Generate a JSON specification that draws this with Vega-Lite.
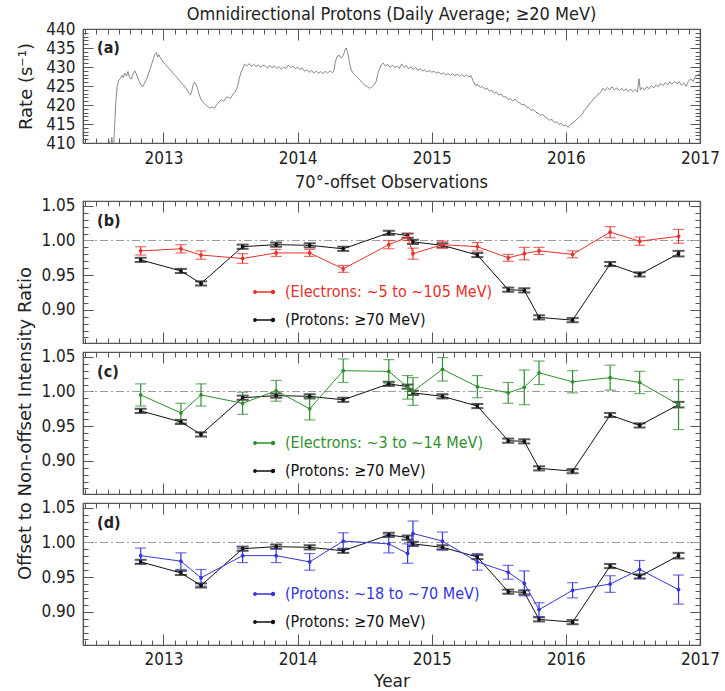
{
"$schema": "https://vega.github.io/schema/vega-lite/v6.json",
"autosize": {"type": "none"},
"padding": {"left": 83, "top": 29, "right": 642, "bottom": 662},
"background": "white",
"bounds": "flush",
"spacing": 9,
"resolve": {"scale": {"color": "independent"}, "legend": {"color": "independent"}},
"config": {
  "view": {"stroke": "#555", "strokeWidth": 1.2},
  "axis": {"domainColor": "#555", "domainWidth": 1.2, "tickColor": "#555", "tickWidth": 1, "labelFont": "DejaVu Sans Condensed, Liberation Sans Narrow, DejaVu Sans", "labelFontSize": 17, "labelColor": "#222", "titleFont": "DejaVu Sans", "titleFontSize": 18, "titleFontWeight": "normal", "titleColor": "#222", "grid": false, "labelOverlap": false, "labelFlush": false, "labelBound": false},
  "title": {"font": "DejaVu Sans Condensed, Liberation Sans Narrow, DejaVu Sans", "fontSize": 18, "fontWeight": "normal", "color": "#222", "frame": "group", "anchor": "middle"},
  "legend": {"orient": "none", "legendX": 170, "padding": 0, "labelOffset": 10, "labelFont": "DejaVu Sans Condensed, Liberation Sans Narrow, DejaVu Sans", "labelFontSize": 16, "labelLimit": 400, "symbolType": "M-0.9,0L0.9,0M-0.9,-0.12A0.12,0.12,0,1,1,-0.9,0.12A0.12,0.12,0,1,1,-0.9,-0.12M0.9,-0.15A0.15,0.15,0,1,1,0.9,0.15A0.15,0.15,0,1,1,0.9,-0.15", "symbolSize": 400, "symbolStrokeWidth": 1.4, "title": null}
},
"datasets": {
"rate": [
{"t":2012.56,"r":405},{"t":2012.575,"r":409.5},{"t":2012.585,"r":404},{"t":2012.595,"r":410.5},{"t":2012.605,"r":405},{"t":2012.615,"r":411.5},{"t":2012.625,"r":406},{"t":2012.635,"r":414},{"t":2012.645,"r":421},{"t":2012.655,"r":425},{"t":2012.667,"r":426.5},{"t":2012.679,"r":427},{"t":2012.69,"r":427.8},{"t":2012.7,"r":427.2},{"t":2012.712,"r":428.4},{"t":2012.724,"r":427.6},{"t":2012.735,"r":428.8},{"t":2012.747,"r":427.3},{"t":2012.759,"r":426.8},{"t":2012.77,"r":427.9},{"t":2012.786,"r":429},{"t":2012.797,"r":428.2},{"t":2012.81,"r":427},{"t":2012.822,"r":426},{"t":2012.833,"r":425.3},{"t":2012.845,"r":424.8},{"t":2012.857,"r":425.6},{"t":2012.868,"r":426.5},{"t":2012.879,"r":427.2},{"t":2012.89,"r":428.5},{"t":2012.902,"r":429.6},{"t":2012.914,"r":431},{"t":2012.925,"r":432.2},{"t":2012.937,"r":433.4},{"t":2012.948,"r":433.8},{"t":2012.957,"r":432.6},{"t":2012.966,"r":433.2},{"t":2012.977,"r":432.4},{"t":2012.988,"r":431.8},{"t":2013.0,"r":431.2},{"t":2013.017,"r":430.6},{"t":2013.034,"r":429.8},{"t":2013.052,"r":429.3},{"t":2013.069,"r":428.4},{"t":2013.086,"r":427.8},{"t":2013.103,"r":427.1},{"t":2013.12,"r":426.4},{"t":2013.138,"r":425.6},{"t":2013.155,"r":425},{"t":2013.172,"r":424.2},{"t":2013.19,"r":423.1},{"t":2013.2,"r":422.6},{"t":2013.21,"r":423.5},{"t":2013.22,"r":425.2},{"t":2013.231,"r":426},{"t":2013.242,"r":425.4},{"t":2013.252,"r":424.6},{"t":2013.264,"r":423},{"t":2013.276,"r":421.8},{"t":2013.29,"r":420.9},{"t":2013.31,"r":420.2},{"t":2013.33,"r":419.6},{"t":2013.345,"r":419.2},{"t":2013.362,"r":419.5},{"t":2013.38,"r":419.1},{"t":2013.397,"r":420.1},{"t":2013.415,"r":420.8},{"t":2013.431,"r":421.4},{"t":2013.45,"r":421},{"t":2013.465,"r":421.9},{"t":2013.483,"r":422.1},{"t":2013.5,"r":421.7},{"t":2013.517,"r":422.8},{"t":2013.535,"r":423.4},{"t":2013.552,"r":424.8},{"t":2013.565,"r":426.9},{"t":2013.576,"r":428.4},{"t":2013.59,"r":429.5},{"t":2013.605,"r":430.8},{"t":2013.621,"r":430.3},{"t":2013.64,"r":430.9},{"t":2013.655,"r":430.2},{"t":2013.672,"r":430.7},{"t":2013.69,"r":430.1},{"t":2013.707,"r":430.6},{"t":2013.724,"r":429.9},{"t":2013.741,"r":430.5},{"t":2013.76,"r":430.2},{"t":2013.776,"r":429.7},{"t":2013.793,"r":430.4},{"t":2013.81,"r":429.8},{"t":2013.828,"r":430.3},{"t":2013.845,"r":429.6},{"t":2013.862,"r":430.1},{"t":2013.879,"r":429.4},{"t":2013.897,"r":430.0},{"t":2013.914,"r":429.6},{"t":2013.931,"r":430.5},{"t":2013.948,"r":429.8},{"t":2013.965,"r":430.2},{"t":2013.983,"r":429.5},{"t":2014.0,"r":429.9},{"t":2014.017,"r":429.4},{"t":2014.035,"r":429.7},{"t":2014.052,"r":428.9},{"t":2014.069,"r":429.3},{"t":2014.086,"r":428.6},{"t":2014.103,"r":429.1},{"t":2014.12,"r":428.4},{"t":2014.138,"r":428.9},{"t":2014.155,"r":428.3},{"t":2014.172,"r":428.8},{"t":2014.19,"r":428.2},{"t":2014.207,"r":428.9},{"t":2014.224,"r":428.4},{"t":2014.241,"r":429},{"t":2014.258,"r":428.5},{"t":2014.27,"r":428.9},{"t":2014.282,"r":431.5},{"t":2014.295,"r":432.8},{"t":2014.31,"r":433.1},{"t":2014.322,"r":432.4},{"t":2014.334,"r":432.7},{"t":2014.345,"r":433.5},{"t":2014.355,"r":434.6},{"t":2014.362,"r":435},{"t":2014.37,"r":434.2},{"t":2014.38,"r":432.5},{"t":2014.39,"r":430.6},{"t":2014.4,"r":429.2},{"t":2014.414,"r":428.4},{"t":2014.43,"r":427.8},{"t":2014.448,"r":427.2},{"t":2014.465,"r":426.5},{"t":2014.483,"r":425.9},{"t":2014.5,"r":425.2},{"t":2014.517,"r":424.9},{"t":2014.535,"r":424.4},{"t":2014.552,"r":424.7},{"t":2014.569,"r":425.3},{"t":2014.586,"r":426.2},{"t":2014.598,"r":428.3},{"t":2014.61,"r":429.5},{"t":2014.624,"r":430.6},{"t":2014.638,"r":431},{"t":2014.655,"r":430.2},{"t":2014.672,"r":430.7},{"t":2014.69,"r":429.9},{"t":2014.707,"r":430.5},{"t":2014.724,"r":429.8},{"t":2014.741,"r":430.3},{"t":2014.758,"r":429.6},{"t":2014.776,"r":430.8},{"t":2014.793,"r":429.9},{"t":2014.81,"r":430.4},{"t":2014.828,"r":429.5},{"t":2014.845,"r":430.1},{"t":2014.862,"r":429.3},{"t":2014.88,"r":429.9},{"t":2014.897,"r":429.1},{"t":2014.914,"r":429.6},{"t":2014.931,"r":428.9},{"t":2014.948,"r":429.3},{"t":2014.965,"r":428.7},{"t":2014.983,"r":429.1},{"t":2015.0,"r":428.6},{"t":2015.017,"r":428.9},{"t":2015.034,"r":428.3},{"t":2015.052,"r":428.7},{"t":2015.069,"r":428.1},{"t":2015.086,"r":428.5},{"t":2015.103,"r":427.9},{"t":2015.121,"r":428.3},{"t":2015.138,"r":427.8},{"t":2015.155,"r":428.2},{"t":2015.172,"r":427.7},{"t":2015.19,"r":428.1},{"t":2015.207,"r":427.6},{"t":2015.224,"r":428.0},{"t":2015.241,"r":427.5},{"t":2015.259,"r":427.9},{"t":2015.276,"r":427.4},{"t":2015.293,"r":427.7},{"t":2015.31,"r":426.2},{"t":2015.328,"r":425.1},{"t":2015.345,"r":425.4},{"t":2015.362,"r":424.6},{"t":2015.379,"r":424.9},{"t":2015.397,"r":424.1},{"t":2015.414,"r":424.4},{"t":2015.431,"r":423.6},{"t":2015.448,"r":423.9},{"t":2015.466,"r":423.1},{"t":2015.483,"r":423.4},{"t":2015.5,"r":422.6},{"t":2015.517,"r":422.9},{"t":2015.535,"r":422.1},{"t":2015.552,"r":422.2},{"t":2015.569,"r":421.4},{"t":2015.586,"r":421.7},{"t":2015.604,"r":421},{"t":2015.621,"r":421.6},{"t":2015.638,"r":420.8},{"t":2015.655,"r":420.6},{"t":2015.672,"r":420},{"t":2015.69,"r":420.2},{"t":2015.707,"r":419.4},{"t":2015.724,"r":419.3},{"t":2015.741,"r":418.6},{"t":2015.759,"r":418.8},{"t":2015.776,"r":418.1},{"t":2015.793,"r":417.9},{"t":2015.81,"r":417.3},{"t":2015.828,"r":417.5},{"t":2015.845,"r":416.8},{"t":2015.862,"r":416.5},{"t":2015.88,"r":416},{"t":2015.897,"r":416.2},{"t":2015.914,"r":415.4},{"t":2015.931,"r":415.6},{"t":2015.948,"r":414.9},{"t":2015.966,"r":415.2},{"t":2015.983,"r":414.5},{"t":2016.0,"r":414.8},{"t":2016.017,"r":414.1},{"t":2016.034,"r":414.9},{"t":2016.052,"r":415.3},{"t":2016.069,"r":415.8},{"t":2016.086,"r":416.4},{"t":2016.103,"r":416.9},{"t":2016.121,"r":417.5},{"t":2016.138,"r":418.6},{"t":2016.155,"r":419.3},{"t":2016.172,"r":420.2},{"t":2016.19,"r":420.8},{"t":2016.207,"r":421.7},{"t":2016.224,"r":422.1},{"t":2016.241,"r":422.9},{"t":2016.259,"r":423.3},{"t":2016.276,"r":424.4},{"t":2016.293,"r":423.8},{"t":2016.31,"r":424.6},{"t":2016.328,"r":424},{"t":2016.345,"r":424.8},{"t":2016.362,"r":423.9},{"t":2016.38,"r":424.5},{"t":2016.397,"r":423.8},{"t":2016.414,"r":424.4},{"t":2016.431,"r":423.7},{"t":2016.448,"r":424.3},{"t":2016.466,"r":423.6},{"t":2016.483,"r":424.2},{"t":2016.5,"r":423.5},{"t":2016.517,"r":424.1},{"t":2016.534,"r":423.4},{"t":2016.545,"r":426.9},{"t":2016.555,"r":424},{"t":2016.569,"r":424.6},{"t":2016.586,"r":423.9},{"t":2016.603,"r":424.8},{"t":2016.621,"r":424.3},{"t":2016.638,"r":425.1},{"t":2016.655,"r":424.5},{"t":2016.672,"r":425.3},{"t":2016.69,"r":424.8},{"t":2016.707,"r":425.7},{"t":2016.724,"r":425.1},{"t":2016.741,"r":425.9},{"t":2016.759,"r":425.3},{"t":2016.776,"r":426.1},{"t":2016.793,"r":425.5},{"t":2016.81,"r":426.2},{"t":2016.828,"r":425.6},{"t":2016.845,"r":426.1},{"t":2016.862,"r":425.2},{"t":2016.879,"r":425.8},{"t":2016.897,"r":424.9},{"t":2016.914,"r":426.3},{"t":2016.931,"r":426.9},{"t":2016.948,"r":426.2},{"t":2016.966,"r":427.5},{"t":2016.983,"r":427.9},{"t":2017.0,"r":428.2}
],
"obs": [
{"t":2012.83,"v":0.972,"e":0.003,"s":"(Protons: ≥70 MeV)"},{"t":2013.13,"v":0.956,"e":0.003,"s":"(Protons: ≥70 MeV)"},{"t":2013.28,"v":0.938,"e":0.003,"s":"(Protons: ≥70 MeV)"},{"t":2013.59,"v":0.991,"e":0.003,"s":"(Protons: ≥70 MeV)"},{"t":2013.84,"v":0.994,"e":0.003,"s":"(Protons: ≥70 MeV)"},{"t":2014.09,"v":0.993,"e":0.003,"s":"(Protons: ≥70 MeV)"},{"t":2014.34,"v":0.988,"e":0.003,"s":"(Protons: ≥70 MeV)"},{"t":2014.68,"v":1.011,"e":0.003,"s":"(Protons: ≥70 MeV)"},{"t":2014.82,"v":1.007,"e":0.003,"s":"(Protons: ≥70 MeV)"},{"t":2014.86,"v":0.998,"e":0.003,"s":"(Protons: ≥70 MeV)"},{"t":2015.08,"v":0.993,"e":0.003,"s":"(Protons: ≥70 MeV)"},{"t":2015.34,"v":0.979,"e":0.003,"s":"(Protons: ≥70 MeV)"},{"t":2015.57,"v":0.929,"e":0.003,"s":"(Protons: ≥70 MeV)"},{"t":2015.69,"v":0.928,"e":0.003,"s":"(Protons: ≥70 MeV)"},{"t":2015.8,"v":0.889,"e":0.003,"s":"(Protons: ≥70 MeV)"},{"t":2016.05,"v":0.885,"e":0.003,"s":"(Protons: ≥70 MeV)"},{"t":2016.33,"v":0.966,"e":0.003,"s":"(Protons: ≥70 MeV)"},{"t":2016.55,"v":0.951,"e":0.003,"s":"(Protons: ≥70 MeV)"},{"t":2016.84,"v":0.981,"e":0.004,"s":"(Protons: ≥70 MeV)"},
{"t":2012.83,"v":0.985,"e":0.006,"s":"(Electrons: ~5 to ~105 MeV)"},{"t":2013.13,"v":0.988,"e":0.006,"s":"(Electrons: ~5 to ~105 MeV)"},{"t":2013.28,"v":0.979,"e":0.006,"s":"(Electrons: ~5 to ~105 MeV)"},{"t":2013.59,"v":0.974,"e":0.007,"s":"(Electrons: ~5 to ~105 MeV)"},{"t":2013.84,"v":0.982,"e":0.005,"s":"(Electrons: ~5 to ~105 MeV)"},{"t":2014.09,"v":0.982,"e":0.005,"s":"(Electrons: ~5 to ~105 MeV)"},{"t":2014.34,"v":0.959,"e":0.005,"s":"(Electrons: ~5 to ~105 MeV)"},{"t":2014.68,"v":0.994,"e":0.006,"s":"(Electrons: ~5 to ~105 MeV)"},{"t":2014.82,"v":1.005,"e":0.005,"s":"(Electrons: ~5 to ~105 MeV)"},{"t":2014.86,"v":0.981,"e":0.008,"s":"(Electrons: ~5 to ~105 MeV)"},{"t":2015.08,"v":0.994,"e":0.005,"s":"(Electrons: ~5 to ~105 MeV)"},{"t":2015.34,"v":0.991,"e":0.006,"s":"(Electrons: ~5 to ~105 MeV)"},{"t":2015.57,"v":0.975,"e":0.005,"s":"(Electrons: ~5 to ~105 MeV)"},{"t":2015.69,"v":0.981,"e":0.009,"s":"(Electrons: ~5 to ~105 MeV)"},{"t":2015.8,"v":0.985,"e":0.005,"s":"(Electrons: ~5 to ~105 MeV)"},{"t":2016.05,"v":0.98,"e":0.005,"s":"(Electrons: ~5 to ~105 MeV)"},{"t":2016.33,"v":1.012,"e":0.008,"s":"(Electrons: ~5 to ~105 MeV)"},{"t":2016.55,"v":0.999,"e":0.006,"s":"(Electrons: ~5 to ~105 MeV)"},{"t":2016.84,"v":1.006,"e":0.01,"s":"(Electrons: ~5 to ~105 MeV)"},
{"t":2012.83,"v":0.995,"e":0.016,"s":"(Electrons: ~3 to ~14 MeV)"},{"t":2013.13,"v":0.969,"e":0.014,"s":"(Electrons: ~3 to ~14 MeV)"},{"t":2013.28,"v":0.995,"e":0.016,"s":"(Electrons: ~3 to ~14 MeV)"},{"t":2013.59,"v":0.983,"e":0.016,"s":"(Electrons: ~3 to ~14 MeV)"},{"t":2013.84,"v":1.001,"e":0.015,"s":"(Electrons: ~3 to ~14 MeV)"},{"t":2014.09,"v":0.975,"e":0.016,"s":"(Electrons: ~3 to ~14 MeV)"},{"t":2014.34,"v":1.03,"e":0.017,"s":"(Electrons: ~3 to ~14 MeV)"},{"t":2014.68,"v":1.029,"e":0.017,"s":"(Electrons: ~3 to ~14 MeV)"},{"t":2014.82,"v":1.006,"e":0.017,"s":"(Electrons: ~3 to ~14 MeV)"},{"t":2014.86,"v":1.0,"e":0.02,"s":"(Electrons: ~3 to ~14 MeV)"},{"t":2015.08,"v":1.032,"e":0.017,"s":"(Electrons: ~3 to ~14 MeV)"},{"t":2015.34,"v":1.007,"e":0.016,"s":"(Electrons: ~3 to ~14 MeV)"},{"t":2015.57,"v":0.998,"e":0.015,"s":"(Electrons: ~3 to ~14 MeV)"},{"t":2015.69,"v":1.006,"e":0.025,"s":"(Electrons: ~3 to ~14 MeV)"},{"t":2015.8,"v":1.027,"e":0.017,"s":"(Electrons: ~3 to ~14 MeV)"},{"t":2016.05,"v":1.014,"e":0.016,"s":"(Electrons: ~3 to ~14 MeV)"},{"t":2016.33,"v":1.02,"e":0.018,"s":"(Electrons: ~3 to ~14 MeV)"},{"t":2016.55,"v":1.013,"e":0.016,"s":"(Electrons: ~3 to ~14 MeV)"},{"t":2016.84,"v":0.981,"e":0.036,"s":"(Electrons: ~3 to ~14 MeV)"},
{"t":2012.83,"v":0.981,"e":0.011,"s":"(Protons: ~18 to ~70 MeV)"},{"t":2013.13,"v":0.973,"e":0.012,"s":"(Protons: ~18 to ~70 MeV)"},{"t":2013.28,"v":0.949,"e":0.012,"s":"(Protons: ~18 to ~70 MeV)"},{"t":2013.59,"v":0.981,"e":0.01,"s":"(Protons: ~18 to ~70 MeV)"},{"t":2013.84,"v":0.981,"e":0.01,"s":"(Protons: ~18 to ~70 MeV)"},{"t":2014.09,"v":0.972,"e":0.012,"s":"(Protons: ~18 to ~70 MeV)"},{"t":2014.34,"v":1.002,"e":0.012,"s":"(Protons: ~18 to ~70 MeV)"},{"t":2014.68,"v":0.998,"e":0.013,"s":"(Protons: ~18 to ~70 MeV)"},{"t":2014.82,"v":0.984,"e":0.014,"s":"(Protons: ~18 to ~70 MeV)"},{"t":2014.86,"v":1.013,"e":0.018,"s":"(Protons: ~18 to ~70 MeV)"},{"t":2015.08,"v":1.002,"e":0.013,"s":"(Protons: ~18 to ~70 MeV)"},{"t":2015.34,"v":0.972,"e":0.012,"s":"(Protons: ~18 to ~70 MeV)"},{"t":2015.57,"v":0.957,"e":0.01,"s":"(Protons: ~18 to ~70 MeV)"},{"t":2015.69,"v":0.941,"e":0.018,"s":"(Protons: ~18 to ~70 MeV)"},{"t":2015.8,"v":0.903,"e":0.01,"s":"(Protons: ~18 to ~70 MeV)"},{"t":2016.05,"v":0.931,"e":0.011,"s":"(Protons: ~18 to ~70 MeV)"},{"t":2016.33,"v":0.94,"e":0.012,"s":"(Protons: ~18 to ~70 MeV)"},{"t":2016.55,"v":0.961,"e":0.013,"s":"(Protons: ~18 to ~70 MeV)"},{"t":2016.84,"v":0.932,"e":0.021,"s":"(Protons: ~18 to ~70 MeV)"}
]
},
"vconcat": [
{
 "width": 617, "height": 114,
 "title": {"text": "Omnidirectional Protons (Daily Average; ≥20 MeV)", "offset": -4},
 "layer": [
  {"data": {"name": "rate"}, "mark": {"type": "line", "color": "#6a6a6a", "strokeWidth": 0.8, "clip": true},
   "encoding": {
    "x": {"field": "t", "type": "quantitative", "scale": {"domain": [2012.4, 2017.0], "nice": false, "zero": false},
      "axis": {"orient": "bottom", "values": [2012.4166667,2012.5,2012.5833333,2012.6666667,2012.75,2012.8333333,2012.9166667,2013,2013.0833333,2013.1666667,2013.25,2013.3333333,2013.4166667,2013.5,2013.5833333,2013.6666667,2013.75,2013.8333333,2013.9166667,2014,2014.0833333,2014.1666667,2014.25,2014.3333333,2014.4166667,2014.5,2014.5833333,2014.6666667,2014.75,2014.8333333,2014.9166667,2015,2015.0833333,2015.1666667,2015.25,2015.3333333,2015.4166667,2015.5,2015.5833333,2015.6666667,2015.75,2015.8333333,2015.9166667,2016,2016.0833333,2016.1666667,2016.25,2016.3333333,2016.4166667,2016.5,2016.5833333,2016.6666667,2016.75,2016.8333333,2016.9166667,2017], "tickSize": {"condition": {"test": "datum.value % 1 === 0", "value": -11}, "value": -5}, "labelExpr": "datum.value % 1 === 0 ? format(datum.value, 'd') : ''", "labelPadding": 18, "title": null}},
    "y": {"field": "r", "type": "quantitative", "scale": {"domain": [410, 440], "nice": false, "zero": false},
      "axis": {"orient": "left", "values": [410,411,412,413,414,415,416,417,418,419,420,421,422,423,424,425,426,427,428,429,430,431,432,433,434,435,436,437,438,439,440], "tickSize": {"condition": {"test": "datum.value % 5 === 0", "value": -10}, "value": -5}, "labelExpr": "datum.value % 5 === 0 ? format(datum.value, 'd') : ''", "labelPadding": 18, "title": "Rate (s⁻¹)", "titlePadding": 10}}
   }},
  {"data": {"values": [{}]}, "mark": {"type": "text", "text": "(a)", "align": "left", "baseline": "middle", "fontSize": 16, "fontWeight": "bold", "font": "DejaVu Sans Condensed, Liberation Sans Narrow, DejaVu Sans", "color": "#222"},
   "encoding": {"x": {"datum": 2012.505, "type": "quantitative", "scale": {"domain": [2012.4, 2017.0], "nice": false, "zero": false}, "axis": null}, "y": {"datum": 435, "type": "quantitative", "scale": {"domain": [410, 440], "nice": false, "zero": false}, "axis": null}}},
  {"data": {"values": [{}]}, "mark": {"type": "point", "opacity": 0},
   "encoding": {
    "x": {"datum": 2015, "type": "quantitative", "scale": {"domain": [2012.4, 2017.0], "nice": false, "zero": false},
      "axis": {"orient": "top", "values": [2012.4166667,2012.5,2012.5833333,2012.6666667,2012.75,2012.8333333,2012.9166667,2013,2013.0833333,2013.1666667,2013.25,2013.3333333,2013.4166667,2013.5,2013.5833333,2013.6666667,2013.75,2013.8333333,2013.9166667,2014,2014.0833333,2014.1666667,2014.25,2014.3333333,2014.4166667,2014.5,2014.5833333,2014.6666667,2014.75,2014.8333333,2014.9166667,2015,2015.0833333,2015.1666667,2015.25,2015.3333333,2015.4166667,2015.5,2015.5833333,2015.6666667,2015.75,2015.8333333,2015.9166667,2016,2016.0833333,2016.1666667,2016.25,2016.3333333,2016.4166667,2016.5,2016.5833333,2016.6666667,2016.75,2016.8333333,2016.9166667,2017], "tickSize": {"condition": {"test": "datum.value % 1 === 0", "value": -11}, "value": -5}, "labels": false, "title": null}},
    "y": {"datum": 425, "type": "quantitative", "scale": {"domain": [410, 440], "nice": false, "zero": false},
      "axis": {"orient": "right", "values": [410,411,412,413,414,415,416,417,418,419,420,421,422,423,424,425,426,427,428,429,430,431,432,433,434,435,436,437,438,439,440], "tickSize": {"condition": {"test": "datum.value % 5 === 0", "value": -10}, "value": -5}, "labels": false, "title": null}}
   }}
 ],
 "resolve": {"axis": {"x": "independent", "y": "independent"}}
},
{
 "width": 617, "height": 40, "view": {"stroke": null},
 "data": {"values": [{}]}, "mark": {"type": "point", "opacity": 0}
},
{
 "width": 617, "height": 142,
 "title": {"text": "70°-offset Observations", "offset": 5},
 "layer": [
  {"data": {"values": [{}]}, "mark": {"type": "rule", "color": "#9a9a9a", "strokeDash": [8, 3, 2, 3], "strokeWidth": 1},
   "encoding": {"y": {"datum": 1, "type": "quantitative", "scale": {"domain": [0.852, 1.057], "nice": false, "zero": false}, "axis": null}}},
  {"data": {"name": "obs"}, "transform": [{"filter": "datum.s === '(Protons: ≥70 MeV)'"}],
   "mark": {"type": "errorbar", "ticks": true, "size": 12, "thickness": 2, "color": "#111"},
   "encoding": {"x": {"field": "t", "type": "quantitative", "scale": {"domain": [2012.4, 2017.0], "nice": false, "zero": false}, "axis": null}, "y": {"field": "v", "type": "quantitative", "scale": {"domain": [0.852, 1.057], "nice": false, "zero": false}, "axis": null}, "yError": {"field": "e"}}},
  {"data": {"name": "obs"}, "transform": [{"filter": "datum.s === '(Electrons: ~5 to ~105 MeV)'"}],
   "mark": {"type": "errorbar", "ticks": true, "size": 11, "thickness": 1.2, "color": "#e8302a"},
   "encoding": {"x": {"field": "t", "type": "quantitative", "scale": {"domain": [2012.4, 2017.0], "nice": false, "zero": false}, "axis": null}, "y": {"field": "v", "type": "quantitative", "scale": {"domain": [0.852, 1.057], "nice": false, "zero": false}, "axis": null}, "yError": {"field": "e"}}},
  {"data": {"name": "obs"}, "transform": [{"filter": "datum.s === '(Protons: ≥70 MeV)'"}],
   "mark": {"type": "line", "strokeWidth": 1, "point": {"filled": true, "size": 14}},
   "encoding": {
    "x": {"field": "t", "type": "quantitative", "scale": {"domain": [2012.4, 2017.0], "nice": false, "zero": false},
      "axis": {"orient": "bottom", "values": [2012.4166667,2012.5,2012.5833333,2012.6666667,2012.75,2012.8333333,2012.9166667,2013,2013.0833333,2013.1666667,2013.25,2013.3333333,2013.4166667,2013.5,2013.5833333,2013.6666667,2013.75,2013.8333333,2013.9166667,2014,2014.0833333,2014.1666667,2014.25,2014.3333333,2014.4166667,2014.5,2014.5833333,2014.6666667,2014.75,2014.8333333,2014.9166667,2015,2015.0833333,2015.1666667,2015.25,2015.3333333,2015.4166667,2015.5,2015.5833333,2015.6666667,2015.75,2015.8333333,2015.9166667,2016,2016.0833333,2016.1666667,2016.25,2016.3333333,2016.4166667,2016.5,2016.5833333,2016.6666667,2016.75,2016.8333333,2016.9166667,2017], "tickSize": {"condition": {"test": "datum.value % 1 === 0", "value": -11}, "value": -5}, "labels": false, "title": null}},
    "y": {"field": "v", "type": "quantitative", "scale": {"domain": [0.852, 1.057], "nice": false, "zero": false},
      "axis": {"orient": "left", "values": [0.86,0.87,0.88,0.89,0.9,0.91,0.92,0.93,0.94,0.95,0.96,0.97,0.98,0.99,1,1.01,1.02,1.03,1.04,1.05], "tickSize": {"condition": {"test": "abs(datum.value*20-round(datum.value*20))<0.001", "value": -10}, "value": -5}, "labelExpr": "abs(datum.value*20-round(datum.value*20))<0.001 ? format(datum.value, '.2f') : ''", "labelPadding": 18, "title": null}},
    "color": {"field": "s", "type": "nominal", "scale": {"domain": ["(Protons: ≥70 MeV)"], "range": ["#111111"]},
      "legend": {"legendY": 108, "labelColor": "#111111", "symbolFillColor": "#111111"}}
   }},
  {"data": {"name": "obs"}, "transform": [{"filter": "datum.s === '(Electrons: ~5 to ~105 MeV)'"}],
   "mark": {"type": "line", "strokeWidth": 1, "point": {"filled": true, "size": 14}},
   "encoding": {
    "x": {"field": "t", "type": "quantitative", "scale": {"domain": [2012.4, 2017.0], "nice": false, "zero": false}, "axis": null},
    "y": {"field": "v", "type": "quantitative", "scale": {"domain": [0.852, 1.057], "nice": false, "zero": false}, "axis": null},
    "color": {"field": "s", "type": "nominal", "scale": {"domain": ["(Electrons: ~5 to ~105 MeV)"], "range": ["#e8302a"]},
      "legend": {"legendY": 80, "labelColor": "#e8302a", "symbolFillColor": "#e8302a"}}
   }},
  {"data": {"values": [{}]}, "mark": {"type": "text", "text": "(b)", "align": "left", "baseline": "middle", "fontSize": 16, "fontWeight": "bold", "font": "DejaVu Sans Condensed, Liberation Sans Narrow, DejaVu Sans", "color": "#222"},
   "encoding": {"x": {"datum": 2012.505, "type": "quantitative", "scale": {"domain": [2012.4, 2017.0], "nice": false, "zero": false}, "axis": null}, "y": {"datum": 1.028, "type": "quantitative", "scale": {"domain": [0.852, 1.057], "nice": false, "zero": false}, "axis": null}}},
  {"data": {"values": [{}]}, "mark": {"type": "point", "opacity": 0},
   "encoding": {
    "x": {"datum": 2015, "type": "quantitative", "scale": {"domain": [2012.4, 2017.0], "nice": false, "zero": false},
      "axis": {"orient": "top", "values": [2012.4166667,2012.5,2012.5833333,2012.6666667,2012.75,2012.8333333,2012.9166667,2013,2013.0833333,2013.1666667,2013.25,2013.3333333,2013.4166667,2013.5,2013.5833333,2013.6666667,2013.75,2013.8333333,2013.9166667,2014,2014.0833333,2014.1666667,2014.25,2014.3333333,2014.4166667,2014.5,2014.5833333,2014.6666667,2014.75,2014.8333333,2014.9166667,2015,2015.0833333,2015.1666667,2015.25,2015.3333333,2015.4166667,2015.5,2015.5833333,2015.6666667,2015.75,2015.8333333,2015.9166667,2016,2016.0833333,2016.1666667,2016.25,2016.3333333,2016.4166667,2016.5,2016.5833333,2016.6666667,2016.75,2016.8333333,2016.9166667,2017], "tickSize": {"condition": {"test": "datum.value % 1 === 0", "value": -11}, "value": -5}, "labels": false, "title": null}},
    "y": {"datum": 1, "type": "quantitative", "scale": {"domain": [0.852, 1.057], "nice": false, "zero": false},
      "axis": {"orient": "right", "values": [0.86,0.87,0.88,0.89,0.9,0.91,0.92,0.93,0.94,0.95,0.96,0.97,0.98,0.99,1,1.01,1.02,1.03,1.04,1.05], "tickSize": {"condition": {"test": "abs(datum.value*20-round(datum.value*20))<0.001", "value": -10}, "value": -5}, "labels": false, "title": null}}
   }}
 ],
 "resolve": {"axis": {"x": "independent", "y": "independent"}, "scale": {"color": "independent"}, "legend": {"color": "independent"}}
},
{
 "width": 617, "height": 142,
 "layer": [
  {"data": {"values": [{}]}, "mark": {"type": "rule", "color": "#9a9a9a", "strokeDash": [8, 3, 2, 3], "strokeWidth": 1},
   "encoding": {"y": {"datum": 1, "type": "quantitative", "scale": {"domain": [0.852, 1.057], "nice": false, "zero": false}, "axis": null}}},
  {"data": {"name": "obs"}, "transform": [{"filter": "datum.s === '(Protons: ≥70 MeV)'"}],
   "mark": {"type": "errorbar", "ticks": true, "size": 12, "thickness": 2, "color": "#111"},
   "encoding": {"x": {"field": "t", "type": "quantitative", "scale": {"domain": [2012.4, 2017.0], "nice": false, "zero": false}, "axis": null}, "y": {"field": "v", "type": "quantitative", "scale": {"domain": [0.852, 1.057], "nice": false, "zero": false}, "axis": null}, "yError": {"field": "e"}}},
  {"data": {"name": "obs"}, "transform": [{"filter": "datum.s === '(Electrons: ~3 to ~14 MeV)'"}],
   "mark": {"type": "errorbar", "ticks": true, "size": 11, "thickness": 1.2, "color": "#2f8f2f"},
   "encoding": {"x": {"field": "t", "type": "quantitative", "scale": {"domain": [2012.4, 2017.0], "nice": false, "zero": false}, "axis": null}, "y": {"field": "v", "type": "quantitative", "scale": {"domain": [0.852, 1.057], "nice": false, "zero": false}, "axis": null}, "yError": {"field": "e"}}},
  {"data": {"name": "obs"}, "transform": [{"filter": "datum.s === '(Protons: ≥70 MeV)'"}],
   "mark": {"type": "line", "strokeWidth": 1, "point": {"filled": true, "size": 14}},
   "encoding": {
    "x": {"field": "t", "type": "quantitative", "scale": {"domain": [2012.4, 2017.0], "nice": false, "zero": false},
      "axis": {"orient": "bottom", "values": [2012.4166667,2012.5,2012.5833333,2012.6666667,2012.75,2012.8333333,2012.9166667,2013,2013.0833333,2013.1666667,2013.25,2013.3333333,2013.4166667,2013.5,2013.5833333,2013.6666667,2013.75,2013.8333333,2013.9166667,2014,2014.0833333,2014.1666667,2014.25,2014.3333333,2014.4166667,2014.5,2014.5833333,2014.6666667,2014.75,2014.8333333,2014.9166667,2015,2015.0833333,2015.1666667,2015.25,2015.3333333,2015.4166667,2015.5,2015.5833333,2015.6666667,2015.75,2015.8333333,2015.9166667,2016,2016.0833333,2016.1666667,2016.25,2016.3333333,2016.4166667,2016.5,2016.5833333,2016.6666667,2016.75,2016.8333333,2016.9166667,2017], "tickSize": {"condition": {"test": "datum.value % 1 === 0", "value": -11}, "value": -5}, "labels": false, "title": null}},
    "y": {"field": "v", "type": "quantitative", "scale": {"domain": [0.852, 1.057], "nice": false, "zero": false},
      "axis": {"orient": "left", "values": [0.86,0.87,0.88,0.89,0.9,0.91,0.92,0.93,0.94,0.95,0.96,0.97,0.98,0.99,1,1.01,1.02,1.03,1.04,1.05], "tickSize": {"condition": {"test": "abs(datum.value*20-round(datum.value*20))<0.001", "value": -10}, "value": -5}, "labelExpr": "abs(datum.value*20-round(datum.value*20))<0.001 ? format(datum.value, '.2f') : ''", "labelPadding": 18, "title": "Offset to Non-offset Intensity Ratio", "titlePadding": 6}},
    "color": {"field": "s", "type": "nominal", "scale": {"domain": ["(Protons: ≥70 MeV)"], "range": ["#111111"]},
      "legend": {"legendY": 108, "labelColor": "#111111", "symbolFillColor": "#111111"}}
   }},
  {"data": {"name": "obs"}, "transform": [{"filter": "datum.s === '(Electrons: ~3 to ~14 MeV)'"}],
   "mark": {"type": "line", "strokeWidth": 1, "point": {"filled": true, "size": 14}},
   "encoding": {
    "x": {"field": "t", "type": "quantitative", "scale": {"domain": [2012.4, 2017.0], "nice": false, "zero": false}, "axis": null},
    "y": {"field": "v", "type": "quantitative", "scale": {"domain": [0.852, 1.057], "nice": false, "zero": false}, "axis": null},
    "color": {"field": "s", "type": "nominal", "scale": {"domain": ["(Electrons: ~3 to ~14 MeV)"], "range": ["#2f8f2f"]},
      "legend": {"legendY": 80, "labelColor": "#2f8f2f", "symbolFillColor": "#2f8f2f"}}
   }},
  {"data": {"values": [{}]}, "mark": {"type": "text", "text": "(c)", "align": "left", "baseline": "middle", "fontSize": 16, "fontWeight": "bold", "font": "DejaVu Sans Condensed, Liberation Sans Narrow, DejaVu Sans", "color": "#222"},
   "encoding": {"x": {"datum": 2012.505, "type": "quantitative", "scale": {"domain": [2012.4, 2017.0], "nice": false, "zero": false}, "axis": null}, "y": {"datum": 1.028, "type": "quantitative", "scale": {"domain": [0.852, 1.057], "nice": false, "zero": false}, "axis": null}}},
  {"data": {"values": [{}]}, "mark": {"type": "point", "opacity": 0},
   "encoding": {
    "x": {"datum": 2015, "type": "quantitative", "scale": {"domain": [2012.4, 2017.0], "nice": false, "zero": false},
      "axis": {"orient": "top", "values": [2012.4166667,2012.5,2012.5833333,2012.6666667,2012.75,2012.8333333,2012.9166667,2013,2013.0833333,2013.1666667,2013.25,2013.3333333,2013.4166667,2013.5,2013.5833333,2013.6666667,2013.75,2013.8333333,2013.9166667,2014,2014.0833333,2014.1666667,2014.25,2014.3333333,2014.4166667,2014.5,2014.5833333,2014.6666667,2014.75,2014.8333333,2014.9166667,2015,2015.0833333,2015.1666667,2015.25,2015.3333333,2015.4166667,2015.5,2015.5833333,2015.6666667,2015.75,2015.8333333,2015.9166667,2016,2016.0833333,2016.1666667,2016.25,2016.3333333,2016.4166667,2016.5,2016.5833333,2016.6666667,2016.75,2016.8333333,2016.9166667,2017], "tickSize": {"condition": {"test": "datum.value % 1 === 0", "value": -11}, "value": -5}, "labels": false, "title": null}},
    "y": {"datum": 1, "type": "quantitative", "scale": {"domain": [0.852, 1.057], "nice": false, "zero": false},
      "axis": {"orient": "right", "values": [0.86,0.87,0.88,0.89,0.9,0.91,0.92,0.93,0.94,0.95,0.96,0.97,0.98,0.99,1,1.01,1.02,1.03,1.04,1.05], "tickSize": {"condition": {"test": "abs(datum.value*20-round(datum.value*20))<0.001", "value": -10}, "value": -5}, "labels": false, "title": null}}
   }}
 ],
 "resolve": {"axis": {"x": "independent", "y": "independent"}, "scale": {"color": "independent"}, "legend": {"color": "independent"}}
},
{
 "width": 617, "height": 142,
 "layer": [
  {"data": {"values": [{}]}, "mark": {"type": "rule", "color": "#9a9a9a", "strokeDash": [8, 3, 2, 3], "strokeWidth": 1},
   "encoding": {"y": {"datum": 1, "type": "quantitative", "scale": {"domain": [0.852, 1.057], "nice": false, "zero": false}, "axis": null}}},
  {"data": {"name": "obs"}, "transform": [{"filter": "datum.s === '(Protons: ≥70 MeV)'"}],
   "mark": {"type": "errorbar", "ticks": true, "size": 12, "thickness": 2, "color": "#111"},
   "encoding": {"x": {"field": "t", "type": "quantitative", "scale": {"domain": [2012.4, 2017.0], "nice": false, "zero": false}, "axis": null}, "y": {"field": "v", "type": "quantitative", "scale": {"domain": [0.852, 1.057], "nice": false, "zero": false}, "axis": null}, "yError": {"field": "e"}}},
  {"data": {"name": "obs"}, "transform": [{"filter": "datum.s === '(Protons: ~18 to ~70 MeV)'"}],
   "mark": {"type": "errorbar", "ticks": true, "size": 11, "thickness": 1.2, "color": "#3535d8"},
   "encoding": {"x": {"field": "t", "type": "quantitative", "scale": {"domain": [2012.4, 2017.0], "nice": false, "zero": false}, "axis": null}, "y": {"field": "v", "type": "quantitative", "scale": {"domain": [0.852, 1.057], "nice": false, "zero": false}, "axis": null}, "yError": {"field": "e"}}},
  {"data": {"name": "obs"}, "transform": [{"filter": "datum.s === '(Protons: ≥70 MeV)'"}],
   "mark": {"type": "line", "strokeWidth": 1, "point": {"filled": true, "size": 14}},
   "encoding": {
    "x": {"field": "t", "type": "quantitative", "scale": {"domain": [2012.4, 2017.0], "nice": false, "zero": false},
      "axis": {"orient": "bottom", "values": [2012.4166667,2012.5,2012.5833333,2012.6666667,2012.75,2012.8333333,2012.9166667,2013,2013.0833333,2013.1666667,2013.25,2013.3333333,2013.4166667,2013.5,2013.5833333,2013.6666667,2013.75,2013.8333333,2013.9166667,2014,2014.0833333,2014.1666667,2014.25,2014.3333333,2014.4166667,2014.5,2014.5833333,2014.6666667,2014.75,2014.8333333,2014.9166667,2015,2015.0833333,2015.1666667,2015.25,2015.3333333,2015.4166667,2015.5,2015.5833333,2015.6666667,2015.75,2015.8333333,2015.9166667,2016,2016.0833333,2016.1666667,2016.25,2016.3333333,2016.4166667,2016.5,2016.5833333,2016.6666667,2016.75,2016.8333333,2016.9166667,2017], "tickSize": {"condition": {"test": "datum.value % 1 === 0", "value": -11}, "value": -5}, "labelExpr": "datum.value % 1 === 0 ? format(datum.value, 'd') : ''", "labelPadding": 17, "title": "Year", "titlePadding": 0, "titleFontSize": 17}},
    "y": {"field": "v", "type": "quantitative", "scale": {"domain": [0.852, 1.057], "nice": false, "zero": false},
      "axis": {"orient": "left", "values": [0.86,0.87,0.88,0.89,0.9,0.91,0.92,0.93,0.94,0.95,0.96,0.97,0.98,0.99,1,1.01,1.02,1.03,1.04,1.05], "tickSize": {"condition": {"test": "abs(datum.value*20-round(datum.value*20))<0.001", "value": -10}, "value": -5}, "labelExpr": "abs(datum.value*20-round(datum.value*20))<0.001 ? format(datum.value, '.2f') : ''", "labelPadding": 18, "title": null}},
    "color": {"field": "s", "type": "nominal", "scale": {"domain": ["(Protons: ≥70 MeV)"], "range": ["#111111"]},
      "legend": {"legendY": 108, "labelColor": "#111111", "symbolFillColor": "#111111"}}
   }},
  {"data": {"name": "obs"}, "transform": [{"filter": "datum.s === '(Protons: ~18 to ~70 MeV)'"}],
   "mark": {"type": "line", "strokeWidth": 1, "point": {"filled": true, "size": 14}},
   "encoding": {
    "x": {"field": "t", "type": "quantitative", "scale": {"domain": [2012.4, 2017.0], "nice": false, "zero": false}, "axis": null},
    "y": {"field": "v", "type": "quantitative", "scale": {"domain": [0.852, 1.057], "nice": false, "zero": false}, "axis": null},
    "color": {"field": "s", "type": "nominal", "scale": {"domain": ["(Protons: ~18 to ~70 MeV)"], "range": ["#3535d8"]},
      "legend": {"legendY": 80, "labelColor": "#3535d8", "symbolFillColor": "#3535d8"}}
   }},
  {"data": {"values": [{}]}, "mark": {"type": "text", "text": "(d)", "align": "left", "baseline": "middle", "fontSize": 16, "fontWeight": "bold", "font": "DejaVu Sans Condensed, Liberation Sans Narrow, DejaVu Sans", "color": "#222"},
   "encoding": {"x": {"datum": 2012.505, "type": "quantitative", "scale": {"domain": [2012.4, 2017.0], "nice": false, "zero": false}, "axis": null}, "y": {"datum": 1.028, "type": "quantitative", "scale": {"domain": [0.852, 1.057], "nice": false, "zero": false}, "axis": null}}},
  {"data": {"values": [{}]}, "mark": {"type": "point", "opacity": 0},
   "encoding": {
    "x": {"datum": 2015, "type": "quantitative", "scale": {"domain": [2012.4, 2017.0], "nice": false, "zero": false},
      "axis": {"orient": "top", "values": [2012.4166667,2012.5,2012.5833333,2012.6666667,2012.75,2012.8333333,2012.9166667,2013,2013.0833333,2013.1666667,2013.25,2013.3333333,2013.4166667,2013.5,2013.5833333,2013.6666667,2013.75,2013.8333333,2013.9166667,2014,2014.0833333,2014.1666667,2014.25,2014.3333333,2014.4166667,2014.5,2014.5833333,2014.6666667,2014.75,2014.8333333,2014.9166667,2015,2015.0833333,2015.1666667,2015.25,2015.3333333,2015.4166667,2015.5,2015.5833333,2015.6666667,2015.75,2015.8333333,2015.9166667,2016,2016.0833333,2016.1666667,2016.25,2016.3333333,2016.4166667,2016.5,2016.5833333,2016.6666667,2016.75,2016.8333333,2016.9166667,2017], "tickSize": {"condition": {"test": "datum.value % 1 === 0", "value": -11}, "value": -5}, "labels": false, "title": null}},
    "y": {"datum": 1, "type": "quantitative", "scale": {"domain": [0.852, 1.057], "nice": false, "zero": false},
      "axis": {"orient": "right", "values": [0.86,0.87,0.88,0.89,0.9,0.91,0.92,0.93,0.94,0.95,0.96,0.97,0.98,0.99,1,1.01,1.02,1.03,1.04,1.05], "tickSize": {"condition": {"test": "abs(datum.value*20-round(datum.value*20))<0.001", "value": -10}, "value": -5}, "labels": false, "title": null}}
   }}
 ],
 "resolve": {"axis": {"x": "independent", "y": "independent"}, "scale": {"color": "independent"}, "legend": {"color": "independent"}}
}
]
}
